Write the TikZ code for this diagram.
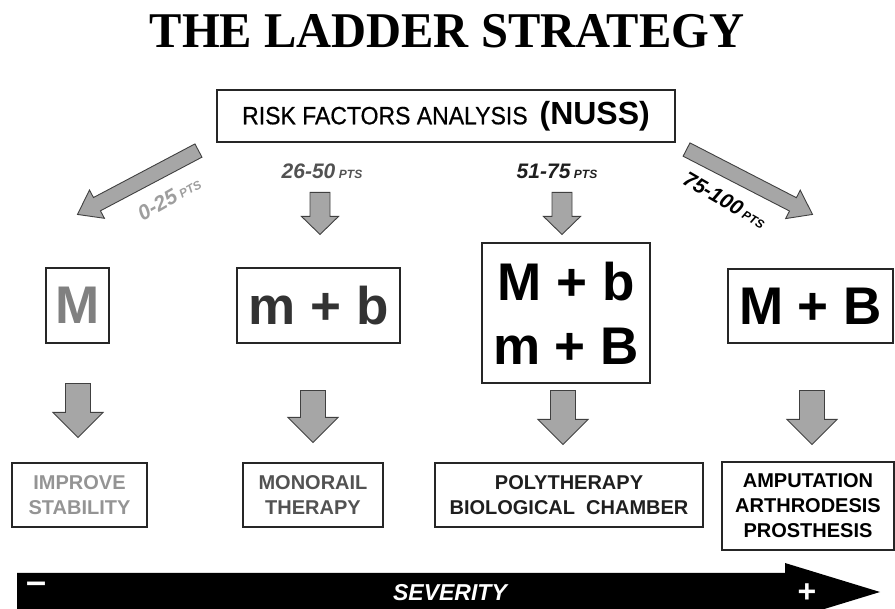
\documentclass[tikz,border=0pt]{standalone}
\usepackage{fontspec}
\setmainfont{Liberation Sans}
\newfontfamily\titlefont{Liberation Serif}
\usetikzlibrary{calc}

% fat arrow: start, end, half shaft, half head, head length
\newcommand{\fatarrow}[5]{%
  \filldraw[fatarr] let \p1=#1, \p2=#2,
    \n1={atan2(\y2-\y1,\x2-\x1)}, \n2={veclen(\x2-\x1,\y2-\y1)} in
    [shift={(\p1)},rotate=\n1]
    (0pt,-#3pt) -- (\n2-#5pt,-#3pt) -- (\n2-#5pt,-#4pt) -- (\n2,0pt)
    -- (\n2-#5pt,#4pt) -- (\n2-#5pt,#3pt) -- (0pt,#3pt) -- cycle;}

\begin{document}
\begin{tikzpicture}[x=1pt,y=-1pt]
\tikzstyle{box}=[draw=black!85,line width=1.1pt,inner sep=0pt,align=center]
\tikzstyle{combo}=[box,font=\bfseries\fontsize{53}{64}\selectfont]
\tikzstyle{outcome}=[box,font=\bfseries\fontsize{20}{25}\selectfont]
\tikzstyle{pts}=[inner sep=0pt,font=\bfseries\itshape\fontsize{21}{21}\selectfont]
\tikzstyle{fatarr}=[fill=black!35,draw=black!75,line width=0.9pt]
\tikzstyle{title}=[anchor=base,xscale=0.97,font=\titlefont\bfseries\fontsize{50}{50}\selectfont]
\useasboundingbox (0,0) rectangle (895,609);

\node[title] (title) at (447,48) {THE LADDER STRATEGY};

\node[box,minimum width=458pt,minimum height=52pt] (risk) at (446,116)
  {\scalebox{0.92}[1]{\fontsize{25}{25}\selectfont\addfontfeature{FakeBold=0.6}RISK FACTORS ANALYSIS}\hspace{12pt}%
   {\bfseries\fontsize{32}{32}\selectfont(NUSS)}};

\node[combo,text=black!50,minimum width=63pt,minimum height=75pt] (M) at (77.5,305.5) {M};
\node[combo,text=black!80,minimum width=163pt,minimum height=75pt] (mb) at (318.5,305.5) {m + b};
\node[combo,minimum width=168pt,minimum height=140pt] (Mb) at (566,313) {M + b\\m + B};
\node[combo,minimum width=165pt,minimum height=74pt] (MB) at (810.5,306) {M + B};

\node[outcome,text=black!42,minimum width=135pt,minimum height=64pt] (stab) at (79.5,495) {IMPROVE\\STABILITY};
\node[outcome,text=black!68,minimum width=140pt,minimum height=64pt] (mono) at (313,495) {MONORAIL\\THERAPY};
\node[outcome,text=black!88,minimum width=268pt,minimum height=64pt] (poly) at (569,495) {POLYTHERAPY\\BIOLOGICAL\ \ CHAMBER};
\node[outcome,minimum width=172pt,minimum height=88pt] (amp) at (808,506) {AMPUTATION\\ARTHRODESIS\\PROSTHESIS};

\node[pts,text=black!38,rotate=30] (p1) at (169,198) {0-25\,{\fontsize{12}{12}\selectfont PTS}};
\node[pts,text=black!68] (p2) at (322,171) {26-50\,{\fontsize{12}{12}\selectfont PTS}};
\node[pts,text=black!88] (p3) at (557,171) {51-75\,{\fontsize{12}{12}\selectfont PTS}};
\node[pts,rotate=-30] (p4) at (725,200) {75-100\,{\fontsize{12}{12}\selectfont PTS}};

\fatarrow{($(risk.south west)+(-18,8)$)}{($(M.north)+(0,-53)$)}{7.5}{16}{22}
\fatarrow{($(mb.north)+(1.5,-75)$)}{($(mb.north)+(1.5,-33)$)}{10}{18.5}{18}
\fatarrow{($(Mb.north)+(-4,-50)$)}{($(Mb.north)+(-4,-8)$)}{10}{18.5}{18}
\fatarrow{($(risk.south east)+(11,7)$)}{($(MB.north)+(2,-54)$)}{7.5}{16}{22}

\fatarrow{($(M.south)+(0.5,40)$)}{($(stab.north)+(-1.5,-25)$)}{12.5}{25}{25}
\fatarrow{($(mb.south)+(-5.5,47)$)}{($(mono.north)+(0,-20)$)}{12.5}{25}{25}
\fatarrow{($(Mb.south)+(-3,7)$)}{($(poly.north)+(-6,-18)$)}{12.5}{25}{25}
\fatarrow{($(MB.south)+(1.5,47)$)}{($(amp.north)+(4,-17)$)}{12.5}{25}{25}

% severity bar
\fill (17,573) -- (785,573) -- (785,563) -- (880,592) -- (785,621) -- (785,611) -- (17,611) -- cycle;
\node[text=white,font=\bfseries\fontsize{36}{36}\selectfont] (minus) at (37,588) {\textendash};
\node[text=white,font=\bfseries\itshape\fontsize{23}{23}\selectfont] (sev) at (450,593) {SEVERITY};
\node[text=white,font=\bfseries\fontsize{32}{32}\selectfont] (plus) at (807,593) {+};
\end{tikzpicture}
\end{document}
